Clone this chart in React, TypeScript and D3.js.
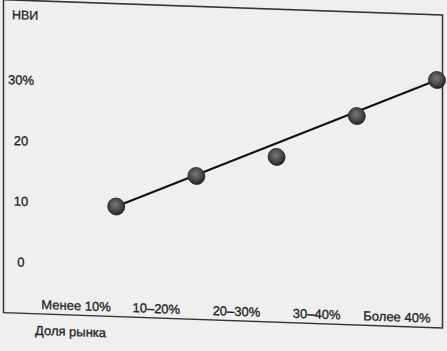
import * as d3 from 'd3';

// Market share groups and HBI values (%)
const categories = ['Менее 10%', '10–20%', '20–30%', '30–40%', 'Более 40%'];
const values = [9.7, 15.2, 18.8, 26.0, 32.4];
const yTicks = [0, 10, 20, 30];
const yTickLabels = ['0', '10', '20', '30%'];

const width = 447;
const height = 351;
const skew = 0.035; // the scan is slightly sheared
const font = '"Liberation Sans", Arial, sans-serif';

const App = () => {
    const x = d3.scaleBand<string>().domain(categories).range([36, 437]).padding(0);
    const y = d3.scaleLinear().domain([0, 30]).range([261.3, 79.3]);
    const bw = x.bandwidth();

    const pts = categories.map((c, i) => ({ c, px: (x(c) ?? 0) + bw, py: y(values[i]) }));
    const line = d3
        .line<{ px: number; py: number }>()
        .x(d => d.px)
        .y(d => d.py);
    const trend = [pts[0], pts[pts.length - 1]];

    return (
        <svg
            width={width}
            height={height}
            style={{ position: 'absolute', left: 0, top: 0, background: '#efefef' }}
        >
            <defs>
                <radialGradient id="ball" cx="45%" cy="40%" r="60%">
                    <stop offset="0%" stopColor="#7a7a7a" />
                    <stop offset="60%" stopColor="#4a4a4a" />
                    <stop offset="100%" stopColor="#222" />
                </radialGradient>
            </defs>
            <g
                transform={`matrix(1, ${skew}, 0, 1, 0, 0)`}
                fontFamily={font}
                fill="#1e1e1e"
                stroke="#1e1e1e"
                strokeWidth={0.3}
            >
                <rect x={3.5} y={-0.5} width={439} height={313} fill="none" stroke="#333" strokeWidth={1.5} />
                <text x={12} y={14.5} fontSize={12.5} dominantBaseline="central">
                    НВИ
                </text>
                {yTicks.map((t, i) => (
                    <text key={t} x={21} y={y(t)} fontSize={13} textAnchor="middle" dominantBaseline="central">
                        {yTickLabels[i]}
                    </text>
                ))}
                <path d={line(trend) ?? ''} fill="none" stroke="#111" strokeWidth={2} />
                {pts.map(p => (
                    <circle key={p.c} cx={p.px} cy={p.py} r={8.5} fill="url(#ball)" stroke="#222" strokeWidth={0.8} />
                ))}
                {categories.map(c => (
                    <text
                        key={c}
                        x={(x(c) ?? 0) + bw / 2}
                        y={303}
                        fontSize={13}
                        textAnchor="middle"
                        dominantBaseline="central"
                    >
                        {c}
                    </text>
                ))}
                <text x={35} y={329} fontSize={13} dominantBaseline="central">
                    Доля рынка
                </text>
            </g>
        </svg>
    );
};

export default App;
